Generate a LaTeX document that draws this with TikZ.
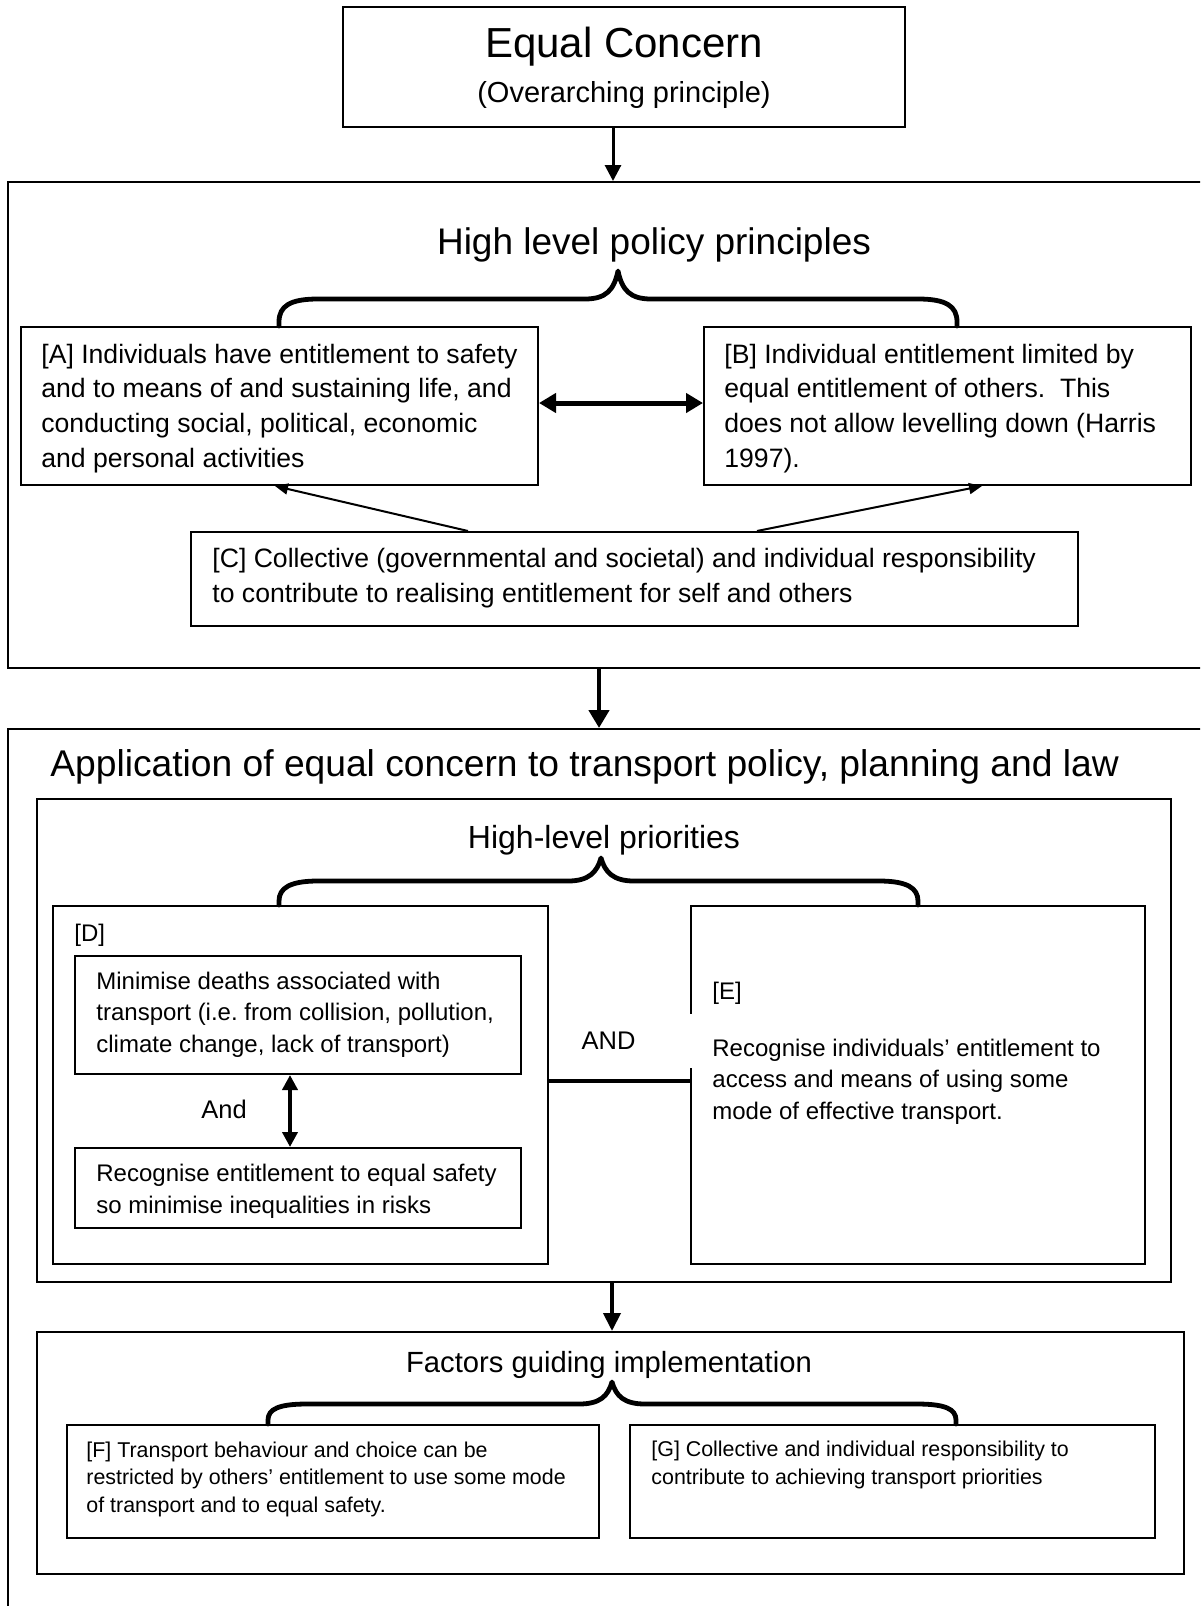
\documentclass[tikz,border=0pt]{standalone}
\usepackage{fontspec}
\setmainfont{Liberation Sans}
\usetikzlibrary{arrows.meta,fit}
\newcommand\setfs[2]{\fontsize{#1pt}{#2pt}\selectfont}
\frenchspacing
\begin{document}
\begin{tikzpicture}[x=0.5pt,y=-0.5pt,
  box/.style={draw, line width=1pt, inner sep=0pt},
  txt/.style={inner sep=0pt, anchor=base west, align=left},
  ctxt/.style={inner sep=0pt, anchor=base, align=center},
  brace/.style={line width=2.4pt, line cap=round, line join=round},
  big/.style={font=\setfs{13.3}{17.3}},
  mid/.style={font=\setfs{12}{15.75}},
  small/.style={font=\setfs{10.7}{13.75}},
]
\useasboundingbox (0,0) rectangle (1200,1606);
\clip (0,0) rectangle (1200,1606);

% multi-line text nodes are anchored at the baseline of their LAST line

% ---------- Equal concern ----------
\node[box, fit={(343,7) (905,127)}] (top) {};
\node[ctxt, font=\setfs{21}{25}] (toptitle) at (624,57) {Equal Concern};
\node[ctxt, font=\setfs{14.5}{17}] (topsub) at (624,102) {(Overarching principle)};

% ---------- High level policy principles ----------
\node[box, fit={(8,182) (1215,668)}] (hlp) {};
\node[ctxt, font=\setfs{18.5}{22}] (hlptitle) at (654,254) {High level policy principles};

\node[box, fit={(21,327) (538,485)}] (A) {};
\node[txt, big] (Atext) at (41,467) {[A] Individuals have entitlement to safety\\and to means of and sustaining life, and\\conducting social, political, economic\\and personal activities};

\node[box, fit={(704,327) (1191,485)}] (B) {};
\node[txt, big] (Btext) at (724,467) {[B] Individual entitlement limited by\\equal entitlement of others.\ \ This\\does not allow levelling down (Harris\\1997).};

\node[box, fit={(191,532) (1078,626)}] (C) {};
\node[txt, big] (Ctext) at (212,602) {[C] Collective (governmental and societal) and individual responsibility\\to contribute to realising entitlement for self and others};

\draw[brace] (A.north -| 279,0) -- (279,322) .. controls (279,306) and (290,299) .. (318,299) -- (585,299) .. controls (606,299) and (614,290) .. (618,271) .. controls (622,290) and (630,299) .. (651,299) -- (918,299) .. controls (946,299) and (957,306) .. (957,322) -- (B.north -| 957,0);

\draw[line width=2.5pt, {Triangle[length=8.5pt,width=9.5pt]}-{Triangle[length=8.5pt,width=9.5pt]}] (A.east |- 0,403) -- (B.west |- 0,403);
\draw[line width=1pt, -{Triangle[length=6.5pt,width=5.5pt]}] (C.north -| 468,0) -- (A.south -| 275,0);
\draw[line width=1pt, -{Triangle[length=6.5pt,width=5.5pt]}] (C.north -| 757,0) -- (B.south -| 982,0);

% ---------- Application ----------
\node[box, fit={(8,729) (1215,1625)}] (app) {};
\node[txt, font=\setfs{18.6}{22}] (apptitle) at (50,776) {Application of equal concern to transport policy, planning and law};

\node[box, fit={(37,799) (1171,1282)}] (P) {};
\node[ctxt, font=\setfs{16}{19}] (Ptitle) at (604,848) {High-level priorities};

\node[box, fit={(53,906) (548,1264)}] (D) {};
\node[txt, mid] (Dlabel) at (74,941) {[D]};
\node[box, fit={(75,956) (521,1074)}] (D1) {};
\node[txt, mid] (D1text) at (96,1052) {Minimise deaths associated with\\transport (i.e.\ from collision, pollution,\\climate change, lack of transport)};
\node[box, fit={(75,1148) (521,1228)}] (D2) {};
\node[txt, mid] (D2text) at (96,1213) {Recognise entitlement to equal safety\\so minimise inequalities in risks};
\node[ctxt, font=\setfs{12.75}{15}] (andsmall) at (224,1118) {And};
\draw[line width=2pt, {Triangle[length=7.5pt,width=7.5pt]}-{Triangle[length=7.5pt,width=7.5pt]}] (D1.south -| 290,0) -- (D2.north -| 290,0);

\node[box, fit={(691,906) (1145,1264)}] (E) {};
\node[txt, mid] (Elabel) at (712,999) {[E]};
\node[txt, mid] (Etext) at (712,1119) {Recognise individuals’ entitlement to\\access and means of using some\\mode of effective transport.};

\node[fill=white, inner sep=0pt, anchor=east, minimum height=27pt, text width=55.5pt, align=left, font=\setfs{12.75}{15}] (andbig) at (693,1041) {AND};
\draw[line width=2.3pt] (D.east |- 0,1081) -- (E.west |- 0,1081);

\draw[brace] (D.north -| 279,0) -- (279,901) .. controls (279,888) and (290,881) .. (318,881) -- (568,881) .. controls (589,881) and (597,872) .. (601,858) .. controls (605,872) and (613,881) .. (634,881) -- (879,881) .. controls (907,881) and (918,888) .. (918,901) -- (E.north -| 918,0);

% ---------- Factors ----------
\node[box, fit={(37,1332) (1184,1574)}] (F) {};
\node[ctxt, font=\setfs{14.6}{17}] (Ftitle) at (609,1372) {Factors guiding implementation};

\node[box, fit={(67,1425) (599,1538)}] (Fb) {};
\node[txt, small] (Fbtext) at (86,1512) {[F] Transport behaviour and choice can be\\restricted by others’ entitlement to use some mode\\of transport and to equal safety.};
\node[box, fit={(630,1425) (1155,1538)}] (G) {};
\node[txt, small] (Gtext) at (651,1484) {[G] Collective and individual responsibility to\\contribute to achieving transport priorities};

\draw[brace] (Fb.north -| 268,0) -- (268,1420) .. controls (268,1409) and (279,1404) .. (307,1404) -- (579,1404) .. controls (600,1404) and (608,1396) .. (612,1382) .. controls (616,1396) and (624,1404) .. (645,1404) -- (917,1404) .. controls (945,1404) and (956,1409) .. (956,1420) -- (G.north -| 956,0);

% ---------- main arrows ----------
\draw[line width=1.5pt, -{Triangle[length=8pt,width=8pt]}] (top.south -| 613,0) -- (hlp.north -| 613,0);
\draw[line width=2.2pt, -{Triangle[length=9pt,width=10pt]}] (hlp.south -| 599,0) -- (app.north -| 599,0);
\draw[line width=2pt, -{Triangle[length=9pt,width=8.5pt]}] (P.south -| 612,0) -- (F.north -| 612,0);
\end{tikzpicture}
\end{document}
